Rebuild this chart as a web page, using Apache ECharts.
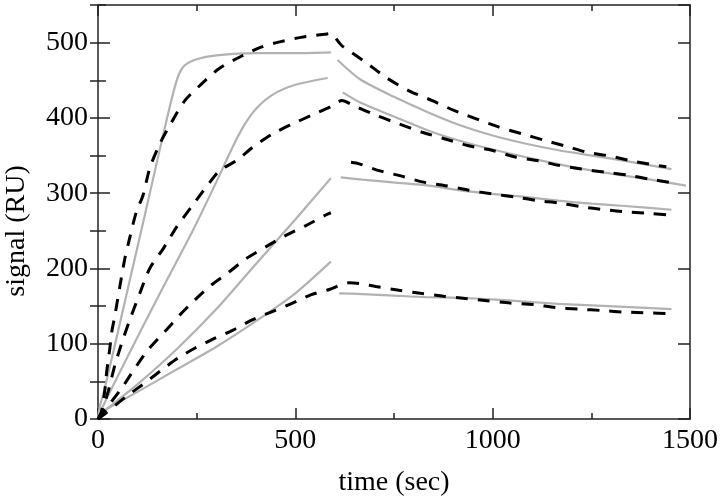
<!DOCTYPE html>
<html>
<head>
<meta charset="utf-8">
<title>signal vs time</title>
<script src="https://cdn.jsdelivr.net/npm/echarts@6/dist/echarts.min.js"></script>
<style>
  html, body { margin: 0; padding: 0; background: #fff; }
  #chart { width: 720px; height: 502px; }
</style>
</head>
<body>
<div id="chart"></div>
<script>
  // [time (sec), signal (RU)]
  // grey = fitted curves, black dashed = measured curves
  const fit1On = [[0, 0], [5, 18], [13, 32], [40, 92], [80, 183], [120, 274], [160, 366], [190, 432], [205, 458], [220, 470], [250, 478], [300, 483], [400, 486], [500, 486], [590, 487]]
  const fit1Off = [[607, 477], [665, 451], [750, 428], [834, 408], [914, 391], [998, 377], [1082, 366], [1167, 357], [1251, 350], [1335, 343], [1453, 332]]
  const fit2On = [[0, 0], [8, 12], [80, 88], [160, 170], [240, 250], [300, 315], [340, 360], [370, 390], [400, 412], [443, 431], [500, 444], [582, 453]]
  const fit2Off = [[620, 434], [670, 419], [754, 401], [838, 383], [914, 370], [1000, 358], [1100, 346], [1200, 335], [1300, 326], [1400, 318], [1490, 310]]
  const fit3On = [[0, 0], [8, 7], [100, 46], [200, 93], [300, 146], [400, 206], [500, 265], [590, 320]]
  const fit3Off = [[615, 321], [670, 318], [754, 314], [838, 310], [914, 304], [998, 299], [1082, 295], [1167, 290], [1251, 286], [1335, 283], [1453, 278]]
  const fit4On = [[0, 0], [6, 8], [100, 36], [200, 66], [300, 96], [400, 130], [500, 167], [590, 209]]
  const fit4Off = [[611, 167], [670, 166], [750, 164], [830, 162], [914, 161], [998, 159], [1082, 156], [1167, 153], [1251, 151], [1335, 149], [1453, 146]]

  const data1 = [[0, 0], [9, 10], [18, 41], [22, 63], [30, 94], [35, 116], [43, 138], [56, 178], [68, 213], [81, 242], [97, 275], [114, 297], [131, 333], [157, 366], [186, 394], [220, 423], [262, 445], [308, 466], [367, 483], [413, 494], [460, 501], [514, 507], [573, 511], [590, 512], [611, 500], [620, 495], [678, 474], [729, 454], [788, 436], [847, 423], [902, 410], [1015, 388], [1074, 379], [1133, 370], [1188, 362], [1242, 354], [1301, 349], [1360, 342], [1440, 335]]
  const data2 = [[0, 0], [10, 10], [26, 37], [43, 72], [64, 107], [85, 138], [106, 167], [131, 200], [165, 226], [199, 255], [237, 282], [274, 308], [308, 330], [350, 343], [392, 361], [443, 379], [493, 392], [539, 403], [594, 416], [618, 423], [649, 416], [707, 403], [763, 392], [821, 381], [880, 372], [939, 363], [998, 357], [1057, 348], [1116, 343], [1167, 337], [1225, 332], [1284, 328], [1343, 324], [1394, 319], [1465, 313]]
  const data3On = [[0, 0], [15, 10], [60, 41], [93, 67], [127, 92], [169, 116], [207, 138], [245, 158], [287, 178], [329, 194], [375, 213], [426, 229], [476, 244], [527, 257], [577, 271], [590, 274]]
  const data3Off = [[641, 341], [662, 339], [712, 330], [767, 323], [821, 315], [880, 310], [939, 304], [998, 299], [1057, 295], [1116, 290], [1167, 287], [1225, 282], [1284, 278], [1343, 275], [1402, 273], [1449, 271]]
  const data4 = [[0, 0], [20, 8], [72, 30], [119, 48], [161, 65], [203, 81], [245, 94], [295, 107], [342, 118], [392, 132], [443, 143], [493, 154], [539, 165], [586, 172], [636, 181], [662, 180], [704, 176], [763, 171], [817, 167], [876, 163], [931, 160], [986, 157], [1044, 154], [1104, 152], [1159, 148], [1217, 146], [1280, 144], [1335, 142], [1394, 141], [1449, 140]]

  const FONT = 'Liberation Serif'
  const FONT_SIZE = 28
  const AXIS_COLOR = '#222'

  const withGap = (a, b) => a.concat([[null, null]], b)
  const plainNumber = (v) => String(v)

  const fitSeries = (data) => ({
    type: 'line',
    data: data,
    showSymbol: false,
    smooth: 0.25,
    connectNulls: false,
    lineStyle: {color: '#b2b2b2', width: 2.2},
    z: 2
  })
  const dataSeries = (data) => ({
    type: 'line',
    data: data,
    showSymbol: false,
    smooth: 0.25,
    connectNulls: false,
    lineStyle: {color: '#000', width: 3, type: [12, 10]},
    z: 3
  })

  const xBase = {
    type: 'value',
    min: 0,
    max: 1500,
    interval: 500,
    splitLine: {show: false},
    axisLine: {show: true, onZero: false, lineStyle: {color: AXIS_COLOR, width: 1.5}},
    axisTick: {inside: true, length: 11, lineStyle: {color: AXIS_COLOR, width: 1.5}},
    minorTick: {show: true, splitNumber: 2, length: 6, lineStyle: {color: AXIS_COLOR, width: 1.5}}
  }
  const yMajor = {
    type: 'value',
    min: 0,
    max: 550,
    interval: 100,
    splitLine: {show: false},
    axisLine: {show: true, onZero: false, lineStyle: {color: AXIS_COLOR, width: 1.5}},
    axisTick: {inside: true, length: 12, lineStyle: {color: AXIS_COLOR, width: 1.5}}
  }
  const yMinor = {
    type: 'value',
    min: 0,
    max: 550,
    interval: 50,
    splitLine: {show: false},
    axisLine: {show: false},
    axisLabel: {show: false},
    axisTick: {inside: true, length: 8, lineStyle: {color: AXIS_COLOR, width: 1.5}}
  }

  const chart = echarts.init(document.getElementById('chart'))
  chart.setOption({
    animation: false,
    backgroundColor: '#fff',
    grid: {left: 98, right: 30, top: 5, bottom: 83, outerBoundsMode: 'none'},
    // y axis title sits a little below the plot's middle in the original
    graphic: [{
      type: 'text',
      x: 17,
      y: 231,
      rotation: Math.PI / 2,
      style: {
        text: 'signal (RU)',
        font: FONT_SIZE + 'px "' + FONT + '"',
        fill: '#000',
        align: 'center',
        verticalAlign: 'middle'
      }
    }],
    xAxis: [
      Object.assign({}, xBase, {
        position: 'bottom',
        name: 'time (sec)',
        nameLocation: 'middle',
        nameGap: 50,
        nameTextStyle: {fontFamily: FONT, fontSize: FONT_SIZE, color: '#000'},
        axisLabel: {fontFamily: FONT, fontSize: FONT_SIZE, color: '#000', margin: 8, formatter: plainNumber}
      }),
      Object.assign({}, xBase, {
        position: 'top',
        axisLabel: {show: false}
      })
    ],
    yAxis: [
      Object.assign({}, yMajor, {
        position: 'left',
        axisLabel: {fontFamily: FONT, fontSize: FONT_SIZE, color: '#000', margin: 10, showMaxLabel: false, formatter: plainNumber}
      }),
      Object.assign({}, yMinor, {position: 'left'}),
      Object.assign({}, yMajor, {position: 'right', axisLabel: {show: false}}),
      Object.assign({}, yMinor, {position: 'right'})
    ],
    series: [
      fitSeries(withGap(fit1On, fit1Off)),
      fitSeries(withGap(fit2On, fit2Off)),
      fitSeries(withGap(fit3On, fit3Off)),
      fitSeries(withGap(fit4On, fit4Off)),
      dataSeries(data1),
      dataSeries(data2),
      dataSeries(withGap(data3On, data3Off)),
      dataSeries(data4)
    ]
  })
</script>
</body>
</html>
